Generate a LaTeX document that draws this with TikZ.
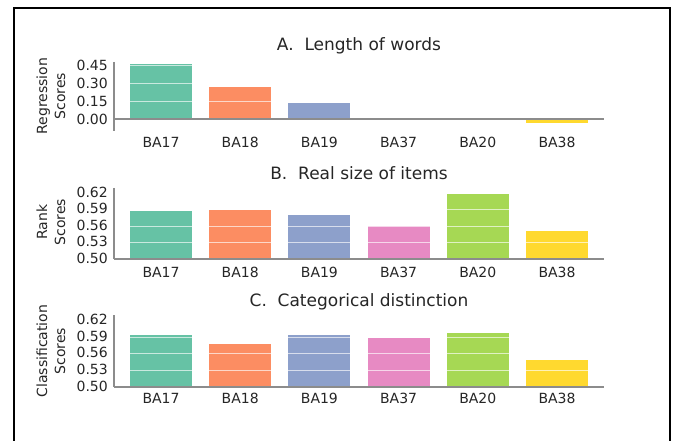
\documentclass[tikz,border=0pt]{standalone}
\usepackage{fontspec}
\setmainfont{DejaVu Sans}
\definecolor{sA}{HTML}{66C2A5}
\definecolor{sB}{HTML}{FC8D62}
\definecolor{sC}{HTML}{8DA0CB}
\definecolor{sD}{HTML}{E78AC3}
\definecolor{sE}{HTML}{A6D854}
\definecolor{sF}{HTML}{FFD92F}
\definecolor{txt}{HTML}{262626}
\definecolor{axc}{HTML}{8C8C8C}
\tikzset{
  ticklab/.style={anchor=east, inner sep=0pt, text=txt, font=\fontsize{14}{14}\selectfont},
  xlab/.style={inner sep=0pt, text=txt, font=\fontsize{14}{14}\selectfont},
  ttl/.style={inner sep=0pt, text=txt, font=\fontsize{17}{17}\selectfont},
  ylab/.style={rotate=90, align=center, inner sep=0pt, text=txt, font=\fontsize{14}{18}\selectfont},
  axisline/.style={draw=axc, line width=1.2pt},
  grid/.style={draw=white, draw opacity=0.65, line width=0.9pt},
}
\begin{document}
\begin{tikzpicture}[x=1pt,y=-1pt]
\useasboundingbox (0,0) rectangle (675,441);
\fill[white] (0,0) rectangle (675,441);
\draw[line width=2pt] (14,442) -- (14,8) -- (670,8) -- (670,442);

% ---------- Panel A ----------
\foreach \v/\c [count=\i from 0] in {0.46/sA,0.27/sB,0.136/sC,0/sD,0/sE,-0.03/sF}
  \fill[\c] ({161+79.2*\i-31},{119-120*\v}) rectangle ({161+79.2*\i+31},119);
\foreach \t in {0.15,0.30,0.45}
  \draw[grid] (116,{119-120*\t}) -- (603,{119-120*\t});
\draw[axisline] (114,62) -- (114,131);
\draw[axisline] (114,119) -- (604,119);
\foreach \t/\l [count=\i] in {0.00/0.00,0.15/0.15,0.30/0.30,0.45/0.45}
  \node[ticklab] (A-y\i) at (108,{119-120*\t}) {\l};
\foreach \l [count=\i from 0] in {BA17,BA18,BA19,BA37,BA20,BA38}
  \node[xlab] (A-x\i) at ({161+79.2*\i},142) {\l};
\node[ttl] (A-title) at (359,46) {A.\ \ Length of words};
\node[ylab] (A-ylab) at (51,96) {Regression\\Scores};

% ---------- Panel B ----------
\foreach \v/\c [count=\i from 0] in {0.588/sA,0.590/sB,0.580/sC,0.5605/sD,0.6176/sE,0.551/sF}
  \fill[\c] ({161+79.2*\i-31},{259-550*(\v-0.5)}) rectangle ({161+79.2*\i+31},259);
\foreach \t in {0.53,0.56,0.59}
  \draw[grid] (116,{259-550*(\t-0.5)}) -- (603,{259-550*(\t-0.5)});
\draw[axisline] (114,188) -- (114,259);
\draw[axisline] (114,259) -- (604,259);
\foreach \t [count=\i] in {0.50,0.53,0.56,0.59,0.62}
  \node[ticklab] (B-y\i) at (108,{258-550*(\t-0.5)}) {\t};
\foreach \l [count=\i from 0] in {BA17,BA18,BA19,BA37,BA20,BA38}
  \node[xlab] (B-x\i) at ({161+79.2*\i},272) {\l};
\node[ttl] (B-title) at (359,173) {B.\ \ Real size of items};
\node[ylab] (B-ylab) at (51,222) {Rank\\Scores};

% ---------- Panel C ----------
\foreach \v/\c [count=\i from 0] in {0.593/sA,0.578/sB,0.593/sC,0.5875/sD,0.598/sE,0.5485/sF}
  \fill[\c] ({161+79.2*\i-31},{387-555*(\v-0.5)}) rectangle ({161+79.2*\i+31},387);
\foreach \t in {0.53,0.56,0.59}
  \draw[grid] (116,{387-555*(\t-0.5)}) -- (603,{387-555*(\t-0.5)});
\draw[axisline] (114,315) -- (114,387);
\draw[axisline] (114,387) -- (604,387);
\foreach \t [count=\i] in {0.50,0.53,0.56,0.59,0.62}
  \node[ticklab] (C-y\i) at (108,{386-555*(\t-0.5)}) {\t};
\foreach \l [count=\i from 0] in {BA17,BA18,BA19,BA37,BA20,BA38}
  \node[xlab] (C-x\i) at ({161+79.2*\i},398) {\l};
\node[ttl] (C-title) at (359,302) {C.\ \ Categorical distinction};
\node[ylab] (C-ylab) at (51,351) {Classification\\Scores};
\end{tikzpicture}
\end{document}
